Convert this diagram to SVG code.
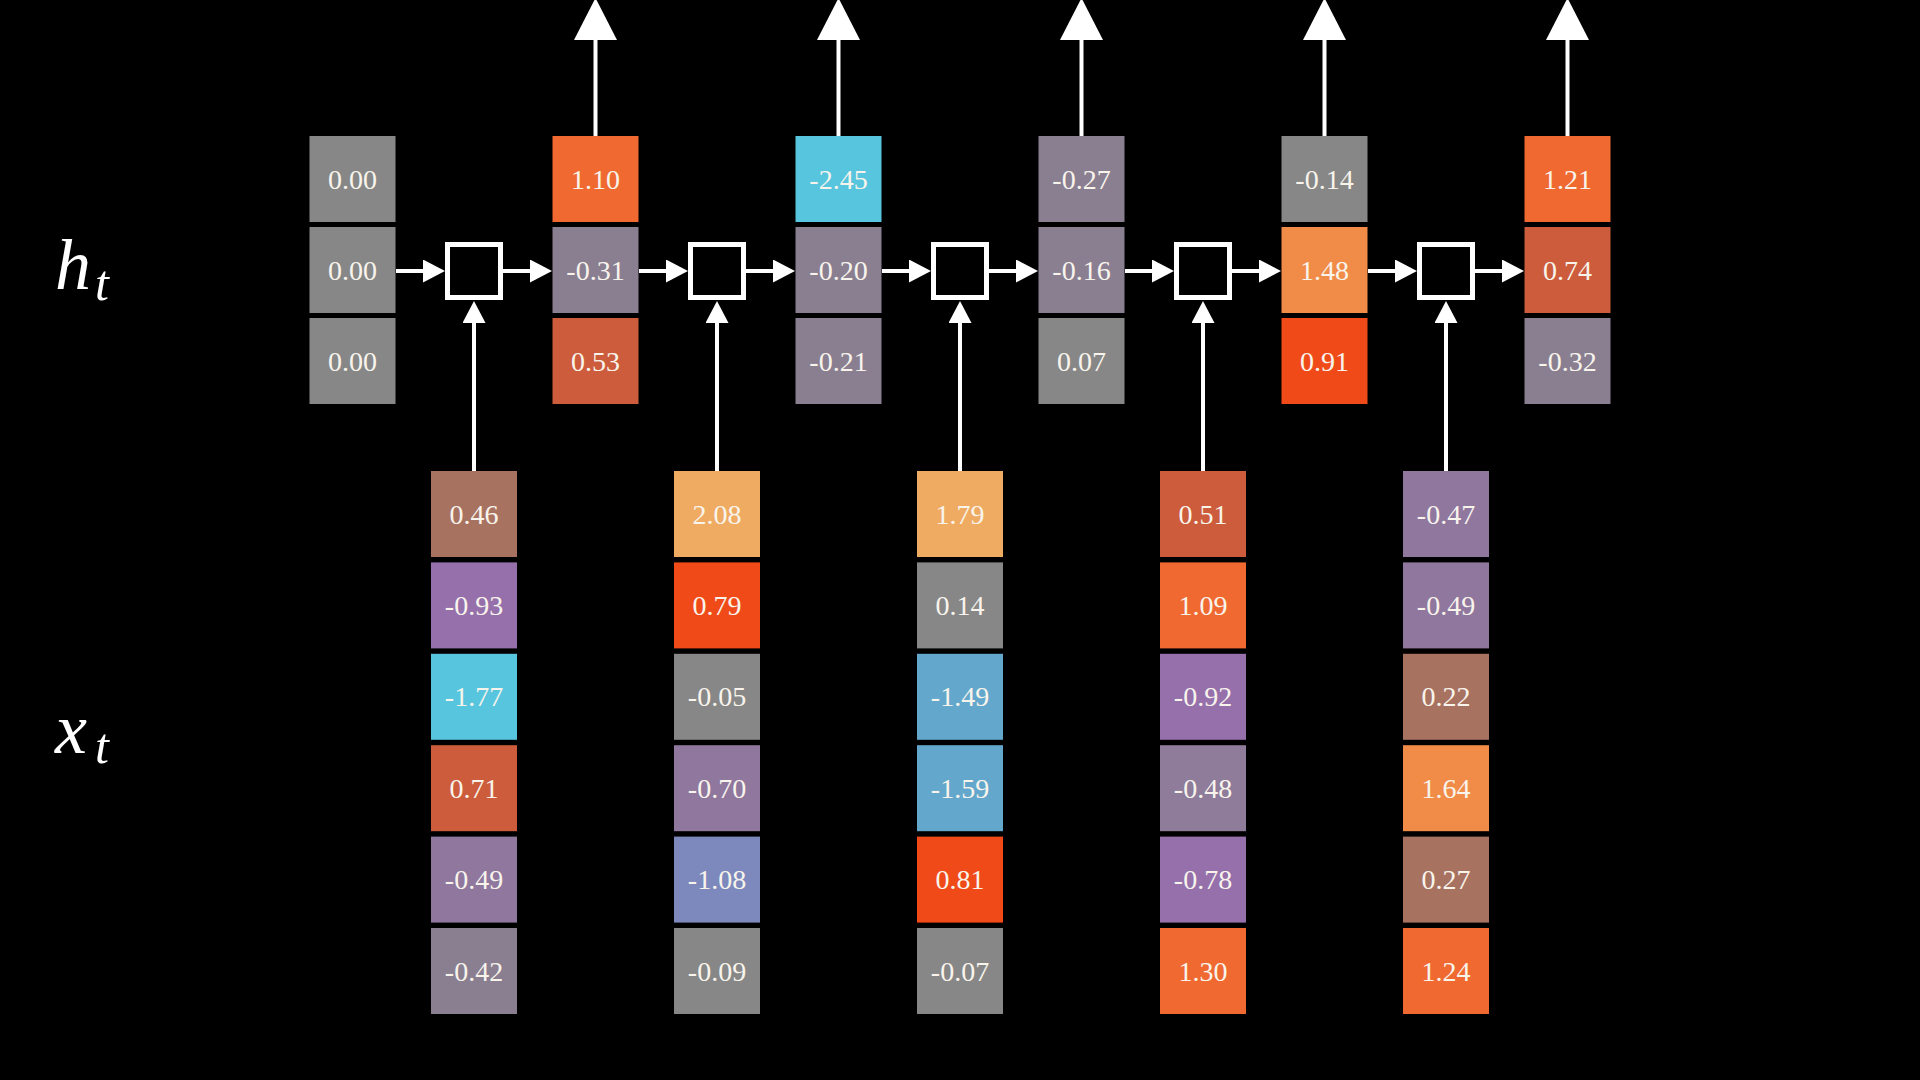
<svg xmlns="http://www.w3.org/2000/svg" width="1920" height="1080" viewBox="0 0 1920 1080">
<style>
.v{font-family:"Liberation Serif","Times New Roman",serif;font-size:28px;fill:#f8f4ec;text-anchor:middle}
.lbl{font-family:"Liberation Serif","Times New Roman",serif;font-style:italic;fill:#ffffff}
.ln{stroke:#ffffff;stroke-width:4;fill:none}
.cell{fill:#000000;stroke:#ffffff;stroke-width:5}
.g{fill:#878787}.gp{fill:#8a7f91}.o{fill:#ef6930}.rb{fill:#cc5c3b}.cy{fill:#56c5dd}
.lo{fill:#efab62}.o2{fill:#f08c48}.r{fill:#f04a18}.br{fill:#a87260}.pu{fill:#9570ab}
.pg{fill:#8f779e}.pg2{fill:#8e7c9a}.bl{fill:#7d89bc}.sb{fill:#63a8cc}
</style>
<defs>
<marker id="ah" markerUnits="userSpaceOnUse" markerWidth="22" markerHeight="23" refX="12" refY="11.5" orient="auto" viewBox="0 0 22 23"><path d="M0,0 L22,11.5 L0,23 z" fill="#ffffff"/></marker>
<marker id="ahb" markerUnits="userSpaceOnUse" markerWidth="42" markerHeight="43" refX="10" refY="21.5" orient="auto" viewBox="0 0 42 43"><path d="M0,0 L42,21.5 L0,43 z" fill="#ffffff"/></marker>
</defs>
<rect x="0" y="0" width="1920" height="1080" fill="#000000"/>

<g id="label-h"><text class="lbl" x="55" y="289" font-size="72">h<tspan font-size="50" dx="4" dy="11">t</tspan></text></g>
<g id="label-x"><text class="lbl" x="55" y="753" font-size="72">x<tspan font-size="50" dx="8" dy="10">t</tspan></text></g>

<g id="connectors">
<!-- h -> cell -->
<line class="ln" x1="396" y1="271" x2="435" y2="271" marker-end="url(#ah)"/>
<line class="ln" x1="639" y1="271" x2="678" y2="271" marker-end="url(#ah)"/>
<line class="ln" x1="882" y1="271" x2="921" y2="271" marker-end="url(#ah)"/>
<line class="ln" x1="1125" y1="271" x2="1164" y2="271" marker-end="url(#ah)"/>
<line class="ln" x1="1368" y1="271" x2="1407" y2="271" marker-end="url(#ah)"/>
<!-- cell -> h -->
<line class="ln" x1="503" y1="271" x2="542" y2="271" marker-end="url(#ah)"/>
<line class="ln" x1="746" y1="271" x2="785" y2="271" marker-end="url(#ah)"/>
<line class="ln" x1="989" y1="271" x2="1028" y2="271" marker-end="url(#ah)"/>
<line class="ln" x1="1232" y1="271" x2="1271" y2="271" marker-end="url(#ah)"/>
<line class="ln" x1="1475" y1="271" x2="1514" y2="271" marker-end="url(#ah)"/>
<!-- x -> cell -->
<line class="ln" x1="474" y1="471" x2="474" y2="311" marker-end="url(#ah)"/>
<line class="ln" x1="717" y1="471" x2="717" y2="311" marker-end="url(#ah)"/>
<line class="ln" x1="960" y1="471" x2="960" y2="311" marker-end="url(#ah)"/>
<line class="ln" x1="1203" y1="471" x2="1203" y2="311" marker-end="url(#ah)"/>
<line class="ln" x1="1446" y1="471" x2="1446" y2="311" marker-end="url(#ah)"/>
<!-- outputs -->
<line class="ln" x1="595.5" y1="136" x2="595.5" y2="30" marker-end="url(#ahb)"/>
<line class="ln" x1="838.5" y1="136" x2="838.5" y2="30" marker-end="url(#ahb)"/>
<line class="ln" x1="1081.5" y1="136" x2="1081.5" y2="30" marker-end="url(#ahb)"/>
<line class="ln" x1="1324.5" y1="136" x2="1324.5" y2="30" marker-end="url(#ahb)"/>
<line class="ln" x1="1567.5" y1="136" x2="1567.5" y2="30" marker-end="url(#ahb)"/>
</g>

<g id="cell1"><rect class="cell" x="447.5" y="244.5" width="53" height="53"/></g>
<g id="cell2"><rect class="cell" x="690.5" y="244.5" width="53" height="53"/></g>
<g id="cell3"><rect class="cell" x="933.5" y="244.5" width="53" height="53"/></g>
<g id="cell4"><rect class="cell" x="1176.5" y="244.5" width="53" height="53"/></g>
<g id="cell5"><rect class="cell" x="1419.5" y="244.5" width="53" height="53"/></g>

<g id="h0">
<rect class="g" x="309.5" y="136" width="86" height="86"/><text class="v" x="352.5" y="188.5">0.00</text>
<rect class="g" x="309.5" y="227" width="86" height="86"/><text class="v" x="352.5" y="279.5">0.00</text>
<rect class="g" x="309.5" y="318" width="86" height="86"/><text class="v" x="352.5" y="370.5">0.00</text>
</g>
<g id="h1">
<rect class="o" x="552.5" y="136" width="86" height="86"/><text class="v" x="595.5" y="188.5">1.10</text>
<rect class="gp" x="552.5" y="227" width="86" height="86"/><text class="v" x="595.5" y="279.5">-0.31</text>
<rect class="rb" x="552.5" y="318" width="86" height="86"/><text class="v" x="595.5" y="370.5">0.53</text>
</g>
<g id="h2">
<rect class="cy" x="795.5" y="136" width="86" height="86"/><text class="v" x="838.5" y="188.5">-2.45</text>
<rect class="gp" x="795.5" y="227" width="86" height="86"/><text class="v" x="838.5" y="279.5">-0.20</text>
<rect class="gp" x="795.5" y="318" width="86" height="86"/><text class="v" x="838.5" y="370.5">-0.21</text>
</g>
<g id="h3">
<rect class="gp" x="1038.5" y="136" width="86" height="86"/><text class="v" x="1081.5" y="188.5">-0.27</text>
<rect class="gp" x="1038.5" y="227" width="86" height="86"/><text class="v" x="1081.5" y="279.5">-0.16</text>
<rect class="g" x="1038.5" y="318" width="86" height="86"/><text class="v" x="1081.5" y="370.5">0.07</text>
</g>
<g id="h4">
<rect class="g" x="1281.5" y="136" width="86" height="86"/><text class="v" x="1324.5" y="188.5">-0.14</text>
<rect class="o2" x="1281.5" y="227" width="86" height="86"/><text class="v" x="1324.5" y="279.5">1.48</text>
<rect class="r" x="1281.5" y="318" width="86" height="86"/><text class="v" x="1324.5" y="370.5">0.91</text>
</g>
<g id="h5">
<rect class="o" x="1524.5" y="136" width="86" height="86"/><text class="v" x="1567.5" y="188.5">1.21</text>
<rect class="rb" x="1524.5" y="227" width="86" height="86"/><text class="v" x="1567.5" y="279.5">0.74</text>
<rect class="gp" x="1524.5" y="318" width="86" height="86"/><text class="v" x="1567.5" y="370.5">-0.32</text>
</g>

<g id="x1">
<rect class="br" x="431" y="471" width="86" height="86"/><text class="v" x="474" y="523.5">0.46</text>
<rect class="pu" x="431" y="562.4" width="86" height="86"/><text class="v" x="474" y="614.9">-0.93</text>
<rect class="cy" x="431" y="653.8" width="86" height="86"/><text class="v" x="474" y="706.3">-1.77</text>
<rect class="rb" x="431" y="745.2" width="86" height="86"/><text class="v" x="474" y="797.7">0.71</text>
<rect class="pg" x="431" y="836.6" width="86" height="86"/><text class="v" x="474" y="889.1">-0.49</text>
<rect class="gp" x="431" y="928" width="86" height="86"/><text class="v" x="474" y="980.5">-0.42</text>
</g>
<g id="x2">
<rect class="lo" x="674" y="471" width="86" height="86"/><text class="v" x="717" y="523.5">2.08</text>
<rect class="r" x="674" y="562.4" width="86" height="86"/><text class="v" x="717" y="614.9">0.79</text>
<rect class="g" x="674" y="653.8" width="86" height="86"/><text class="v" x="717" y="706.3">-0.05</text>
<rect class="pg" x="674" y="745.2" width="86" height="86"/><text class="v" x="717" y="797.7">-0.70</text>
<rect class="bl" x="674" y="836.6" width="86" height="86"/><text class="v" x="717" y="889.1">-1.08</text>
<rect class="g" x="674" y="928" width="86" height="86"/><text class="v" x="717" y="980.5">-0.09</text>
</g>
<g id="x3">
<rect class="lo" x="917" y="471" width="86" height="86"/><text class="v" x="960" y="523.5">1.79</text>
<rect class="g" x="917" y="562.4" width="86" height="86"/><text class="v" x="960" y="614.9">0.14</text>
<rect class="sb" x="917" y="653.8" width="86" height="86"/><text class="v" x="960" y="706.3">-1.49</text>
<rect class="sb" x="917" y="745.2" width="86" height="86"/><text class="v" x="960" y="797.7">-1.59</text>
<rect class="r" x="917" y="836.6" width="86" height="86"/><text class="v" x="960" y="889.1">0.81</text>
<rect class="g" x="917" y="928" width="86" height="86"/><text class="v" x="960" y="980.5">-0.07</text>
</g>
<g id="x4">
<rect class="rb" x="1160" y="471" width="86" height="86"/><text class="v" x="1203" y="523.5">0.51</text>
<rect class="o" x="1160" y="562.4" width="86" height="86"/><text class="v" x="1203" y="614.9">1.09</text>
<rect class="pu" x="1160" y="653.8" width="86" height="86"/><text class="v" x="1203" y="706.3">-0.92</text>
<rect class="pg2" x="1160" y="745.2" width="86" height="86"/><text class="v" x="1203" y="797.7">-0.48</text>
<rect class="pu" x="1160" y="836.6" width="86" height="86"/><text class="v" x="1203" y="889.1">-0.78</text>
<rect class="o" x="1160" y="928" width="86" height="86"/><text class="v" x="1203" y="980.5">1.30</text>
</g>
<g id="x5">
<rect class="pg" x="1403" y="471" width="86" height="86"/><text class="v" x="1446" y="523.5">-0.47</text>
<rect class="pg" x="1403" y="562.4" width="86" height="86"/><text class="v" x="1446" y="614.9">-0.49</text>
<rect class="br" x="1403" y="653.8" width="86" height="86"/><text class="v" x="1446" y="706.3">0.22</text>
<rect class="o2" x="1403" y="745.2" width="86" height="86"/><text class="v" x="1446" y="797.7">1.64</text>
<rect class="br" x="1403" y="836.6" width="86" height="86"/><text class="v" x="1446" y="889.1">0.27</text>
<rect class="o" x="1403" y="928" width="86" height="86"/><text class="v" x="1446" y="980.5">1.24</text>
</g>
</svg>
